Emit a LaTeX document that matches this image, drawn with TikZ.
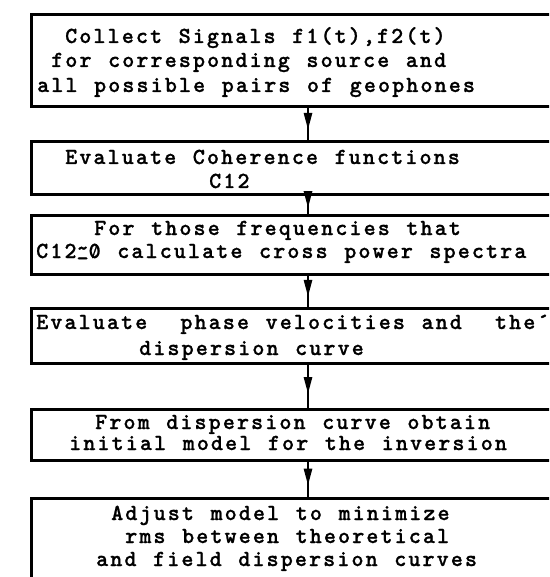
\documentclass[tikz,border=0pt]{standalone}
\usepackage{fontspec}
\newfontfamily\tmono[LetterSpace=9.0,WordSpace={1.17,0,0},FakeBold=0.9]{lmmonolt10-bold.otf}
\usetikzlibrary{arrows.meta,decorations.markings}
\tikzset{
  box/.style={draw=black, line width=3pt, rectangle, inner sep=0pt, anchor=north west, minimum width=600pt},
  txt/.style={anchor=base west, inner sep=0pt, font=\tmono\fontsize{23}{25}\selectfont, text=black},
  conn/.style={draw=black, line width=2.6pt, postaction={decorate},
    decoration={markings, mark=at position 0.68 with {\arrow{Triangle[length=17pt,width=8pt]}}}}
}
\newcommand{\approxsym}{\ooalign{\raisebox{0.12em}{\textasciitilde}\cr\raisebox{0.1em}{\_}\cr}}
\newcommand{\slzero}{\ooalign{0\cr\hidewidth\raisebox{0.05em}{\scalebox{0.55}[0.75]{/}}\hidewidth\cr}}
\begin{document}
\begin{tikzpicture}[x=1pt,y=-1pt]
\useasboundingbox (0,0) rectangle (549,577);
\clip (0,0) rectangle (549,577);
\fill[white] (0,0) rectangle (549,577);
\coordinate (ax) at (308,0);
% boxes
\node[box, minimum height=92.5pt] (b1) at (30,13) {};
\node[box, minimum height=53pt] (b2) at (30,140) {};
\node[box, minimum height=58.5pt] (b3) at (30,214) {};
\node[box, minimum height=54.5pt] (b4) at (30,307) {};
\node[box, minimum height=50.5pt] (b5) at (30,408) {};
\node[box, minimum height=120pt] (b6) at (30,497) {};
% texts
\node[txt] (t1a) at (65,43) {Collect Signals f1(t),f2(t)};
\node[txt] (t1b) at (51,67) {for corresponding source and};
\node[txt] (t1c) at (37,92) {all possible pairs of geophones};
\node[txt] (t2a) at (65,164) {Evaluate Coherence functions};
\node[txt] (t2b) at (209,188) {C12};
\node[txt] (t3a) at (94,235) {For those frequencies that};
\node[txt] (t3b) at (36,258) {C12\approxsym\slzero{} calculate cross power spectra};
\node[txt] (t4a) at (36,329) {Evaluate\ \ phase velocities and\ \ the´};
\node[txt] (t4b) at (139,355) {dispersion curve};
\node[txt] (t5a) at (95,429) {From dispersion curve obtain};
\node[txt] (t5b) at (69,450) {initial model for the inversion};
\node[txt] (t6a) at (111,520) {Adjust model to minimize};
\node[txt] (t6b) at (125,543) {rms between theoretical};
\node[txt] (t6c) at (96,566) {and field dispersion curves};
% connectors
\draw[conn] (b1.south -| ax) -- (b2.north -| ax);
\draw[conn] (b2.south -| ax) -- (b3.north -| ax);
\draw[conn] (b3.south -| ax) -- (b4.north -| ax);
\draw[conn] (b4.south -| ax) -- (b5.north -| ax);
\draw[conn] (b5.south -| ax) -- (b6.north -| ax);
\end{tikzpicture}
\end{document}
